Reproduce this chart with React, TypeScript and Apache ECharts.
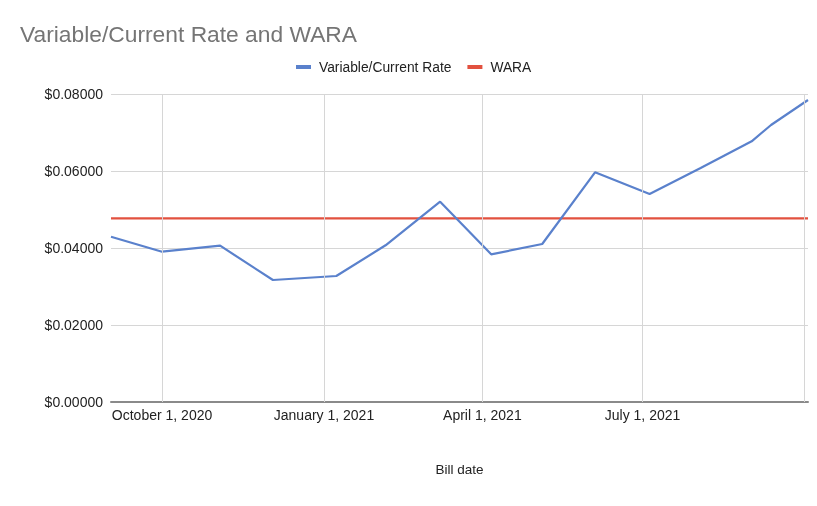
import React, { useEffect, useRef } from 'react';
import * as echarts from 'echarts';

const billDates = [
  '2020-09-02', '2020-10-01', '2020-11-03', '2020-12-03', '2021-01-08',
  '2021-02-05', '2021-03-08', '2021-04-06', '2021-05-05', '2021-06-04',
  '2021-07-05', '2021-08-03', '2021-09-01', '2021-09-12', '2021-10-03',
];
const variableRate = [
  0.04294, 0.03904, 0.0406, 0.03169, 0.03273,
  0.0407, 0.05203, 0.03836, 0.04104, 0.05966,
  0.05403, 0.06078, 0.06771, 0.07195, 0.07844,
];
const waraRate = [
  0.04771, 0.04771, 0.04771, 0.04771, 0.04771,
  0.04771, 0.04771, 0.04771, 0.04771, 0.04771,
  0.04771, 0.04771, 0.04771, 0.04771, 0.04771,
];
const gridDates = ['2020-10-01', '2021-01-01', '2021-04-01', '2021-07-01', '2021-10-01'];
const labelDates = ['2020-10-01', '2021-01-01', '2021-04-01', '2021-07-01'];
const monthNames = ['January', 'February', 'March', 'April', 'May', 'June', 'July', 'August', 'September', 'October', 'November', 'December'];

const toTs = (s: string) => {
  const [y, m, d] = s.split('-').map(Number);
  return new Date(y, m - 1, d).getTime();
};

export default function App() {
  const ref = useRef<HTMLDivElement>(null);
  useEffect(() => {
    if (!ref.current) return;
    const chart = echarts.init(ref.current, null, { renderer: 'svg' });
    const font = '"Liberation Sans", Arial, sans-serif';
    chart.setOption({
      animation: false,
      title: {
        text: 'Variable/Current Rate and WARA',
        left: 15,
        top: 17,
        textStyle: { fontFamily: font, fontSize: 22.8, fontWeight: 'normal', color: '#757575' },
      },
      legend: {
        top: 55,
        left: 291,
        itemWidth: 15,
        itemHeight: 4,
        itemGap: 16,
        icon: 'rect',
        textStyle: { fontFamily: font, fontSize: 13.8, color: '#222', padding: [0, 0, 0, 3] },
        data: ['Variable/Current Rate', 'WARA'],
      },
      grid: { left: 111, right: 9, top: 94, bottom: 104, containLabel: false },
      xAxis: {
        type: 'value',
        min: toTs(billDates[0]),
        max: toTs(billDates[billDates.length - 1]),
        name: 'Bill date',
        nameLocation: 'middle',
        nameGap: 60,
        nameTextStyle: { fontFamily: font, fontSize: 13.5, color: '#222' },
        axisLine: { show: true, lineStyle: { color: '#8a8a8a', width: 2 } },
        axisTick: { show: false },
        splitLine: { show: false },
        axisLabel: {
          customValues: labelDates.map(toTs),
          fontFamily: font,
          fontSize: 14,
          color: '#222',
          margin: 6,
          formatter: (v: number) => {
            const d = new Date(v);
            return `${monthNames[d.getMonth()]} ${d.getDate()}, ${d.getFullYear()}`;
          },
        },
      },
      yAxis: {
        type: 'value',
        min: 0,
        max: 0.08,
        interval: 0.02,
        axisLine: { show: false },
        axisTick: { show: false },
        splitLine: { show: true, lineStyle: { color: '#d6d6d6', width: 1 } },
        axisLabel: {
          fontFamily: font,
          fontSize: 14,
          color: '#222',
          margin: 8,
          formatter: (v: number) => `$${v.toFixed(5)}`,
        },
      },
      series: [
        {
          name: 'grid',
          type: 'line',
          data: [],
          z: 1,
          silent: true,
          markLine: {
            silent: true,
            symbol: 'none',
            label: { show: false },
            lineStyle: { color: '#d6d6d6', width: 1, type: 'solid' },
            data: gridDates.map((d) => ({ xAxis: toTs(d) })),
          },
        },
        {
          name: 'Variable/Current Rate',
          type: 'line',
          data: billDates.map((d, i) => [toTs(d), variableRate[i]]),
          showSymbol: false,
          symbol: 'none',
          lineStyle: { color: '#5a81cc', width: 2.2 },
          itemStyle: { color: '#5a81cc' },
          z: 3,
        },
        {
          name: 'WARA',
          type: 'line',
          data: billDates.map((d, i) => [toTs(d), waraRate[i]]),
          showSymbol: false,
          symbol: 'none',
          lineStyle: { color: '#e2513f', width: 2.2 },
          itemStyle: { color: '#e2513f' },
          z: 2,
        },
      ],
    });
    return () => chart.dispose();
  }, []);
  return <div ref={ref} style={{ position: 'fixed', left: 0, top: 0, width: 817, height: 506 }} />;
}
